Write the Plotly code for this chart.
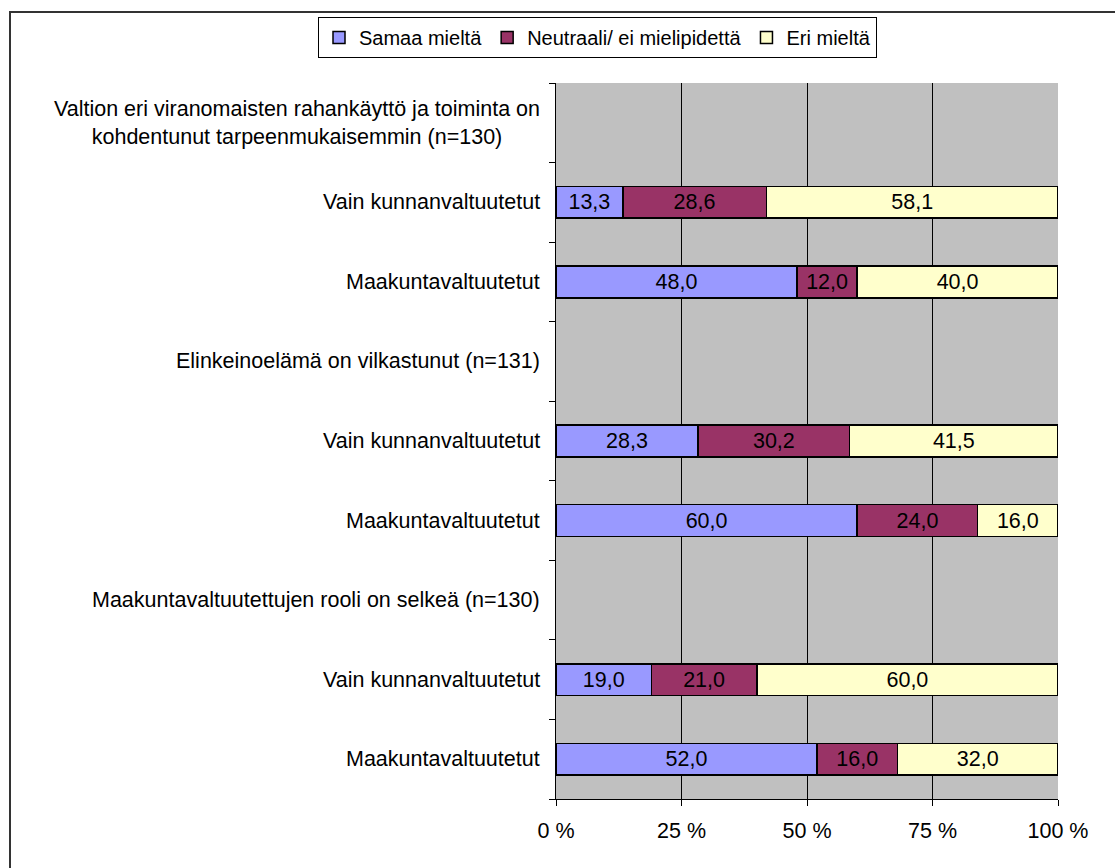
import plotly.graph_objects as go

# Row labels, top to bottom (question headers have no bar)
labels = [
    "Valtion eri viranomaisten rahankäyttö ja toiminta on<br>kohdentunut tarpeenmukaisemmin (n=130)",
    "Vain kunnanvaltuutetut",
    "Maakuntavaltuutetut",
    "Elinkeinoelämä on vilkastunut (n=131)",
    "Vain kunnanvaltuutetut",
    "Maakuntavaltuutetut",
    "Maakuntavaltuutettujen rooli on selkeä (n=130)",
    "Vain kunnanvaltuutetut",
    "Maakuntavaltuutetut",
]

samaa = [None, 13.3, 48.0, None, 28.3, 60.0, None, 19.0, 52.0]
neutraali = [None, 28.6, 12.0, None, 30.2, 24.0, None, 21.0, 16.0]
eri = [None, 58.1, 40.0, None, 41.5, 16.0, None, 60.0, 32.0]

series_names = ["Samaa mieltä", "Neutraali/ ei mielipidettä", "Eri mieltä"]
series_colors = ["#9999FF", "#993366", "#FFFFCC"]

x_ticks = [0, 25, 50, 75, 100]
x_tick_text = ["0 %", "25 %", "50 %", "75 %", "100 %"]

n = len(labels)
ypos = [n - 1 - i for i in range(n)]

FONT = "Liberation Sans, Arial, sans-serif"
FS = 21.5

# plot area in pixels
L, R, T, B = 556, 1058, 83, 799
W, H = R - L, B - T

fig = go.Figure()
for name, vals, col in zip(series_names, [samaa, neutraali, eri], series_colors):
    fig.add_trace(go.Bar(
        name=name,
        x=vals,
        y=ypos,
        orientation="h",
        width=0.4,
        marker=dict(color=col, line=dict(color="black", width=1.5)),
        texttemplate="%{x:.1f}",
        textposition="inside",
        insidetextanchor="middle",
        textangle=0,
        constraintext="none",
        textfont=dict(family=FONT, size=FS, color="black"),
        hoverinfo="skip",
    ))

# Category labels drawn to the left of the plot area
for lab, yp in zip(labels, ypos):
    fig.add_annotation(
        text=lab, x=0, xref="paper", xanchor="right", xshift=-14,
        y=yp, yref="y", yanchor="middle", showarrow=False, align="center",
        font=dict(family=FONT, size=FS, color="black"),
    )

# Outer chart frame
fig.add_shape(type="rect", xref="paper", yref="paper",
              x0=(10 - L) / W, x1=(1125 - L) / W,
              y0=(B - 880) / H, y1=(B - 12) / H,
              line=dict(color="#333333", width=2), fillcolor="rgba(0,0,0,0)",
              layer="above")

fig.update_layout(
    width=1115, height=868,
    margin=dict(l=L, r=1115 - R, t=T, b=868 - B, autoexpand=False),
    barmode="stack",
    bargap=0.6,
    separators=", ",
    paper_bgcolor="white",
    plot_bgcolor="#C0C0C0",
    font=dict(family=FONT, size=FS, color="black"),
    showlegend=True,
    legend=dict(
        orientation="h", xref="paper", yref="paper",
        x=(318 - L) / W, xanchor="left", y=(B - 17) / H, yanchor="top",
        bordercolor="black", borderwidth=1, bgcolor="white",
        font=dict(family=FONT, size=20, color="black"),
        itemwidth=30, traceorder="normal",
    ),
    xaxis=dict(
        range=[0, 100], tickmode="array", tickvals=x_ticks, ticktext=x_tick_text,
        ticks="outside", ticklen=6, tickcolor="black",
        ticklabelstandoff=6,
        showgrid=True, gridcolor="black", gridwidth=1,
        showline=True, linecolor="black", linewidth=1,
        zeroline=False, fixedrange=True,
        tickfont=dict(family=FONT, size=FS, color="black"),
    ),
    yaxis=dict(
        range=[-0.5, n - 0.5], tickvals=[i - 0.5 for i in range(n + 1)],
        showticklabels=False, ticks="outside", ticklen=6, tickcolor="black",
        showgrid=False, zeroline=False,
        showline=True, linecolor="black", linewidth=1, fixedrange=True,
    ),
)

fig.write_html("out.html")
